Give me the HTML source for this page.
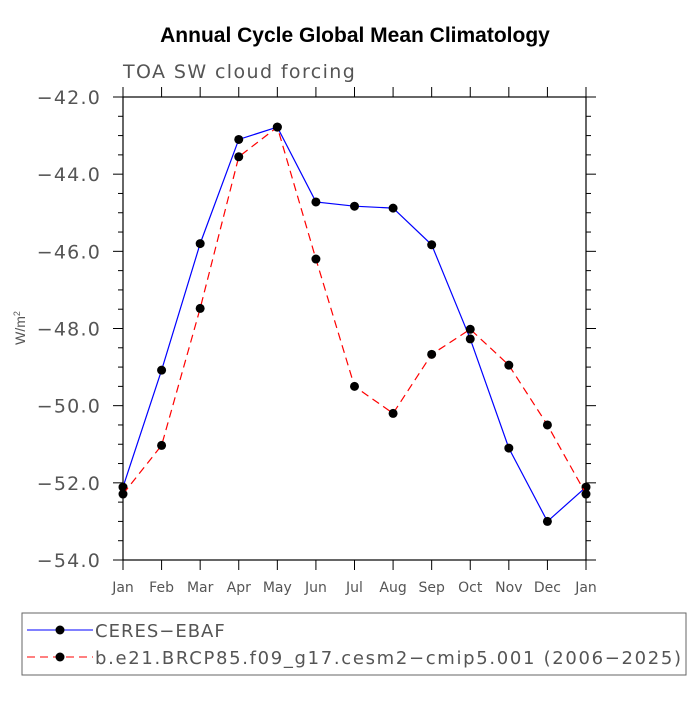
<!DOCTYPE html>
<html><head><meta charset="utf-8"><style>
body{margin:0;background:#fff}
svg text{font-family:"Liberation Sans",sans-serif}
.dv{font-family:"DejaVu Sans",sans-serif !important}
</style></head><body>
<svg id="c" width="700" height="700" xmlns="http://www.w3.org/2000/svg">
<text x="355" y="42" text-anchor="middle" font-size="21" font-weight="bold">Annual Cycle Global Mean Climatology</text>
<text class="dv" x="123" y="78" font-size="19" letter-spacing="1.4" fill="#555">TOA SW cloud forcing</text>
<text transform="translate(25,328) rotate(-90)" text-anchor="middle" font-size="14" fill="#555">W/m<tspan font-size="9" dy="-5">2</tspan></text>
<g id="axes"></g><g id="series"></g>
<rect x="22" y="613" width="664" height="62" fill="none" stroke="#666"/>
<g>
<line x1="27" y1="630" x2="93" y2="630" stroke="#00f"/><circle cx="60" cy="630" r="4.5"/>
<text class="dv" x="95" y="637" font-size="18" letter-spacing="1" fill="#555">CERES−EBAF</text></g>
<g>
<line x1="27" y1="657" x2="93" y2="657" stroke="#f00" stroke-dasharray="8,5"/><circle cx="60" cy="657" r="4.5"/>
<text class="dv" x="95" y="664" font-size="18" letter-spacing="1" textLength="587" fill="#555">b.e21.BRCP85.f09_g17.cesm2−cmip5.001 (2006−2025)</text></g>
</svg>
<script>
const months=["Jan","Feb","Mar","Apr","May","Jun","Jul","Aug","Sep","Oct","Nov","Dec","Jan"];
const ceres=[-52.11,-49.08,-45.8,-43.1,-42.78,-44.72,-44.83,-44.88,-45.83,-48.27,-51.1,-53.0,-52.11];
const model=[-52.29,-51.03,-47.48,-43.55,-42.78,-46.2,-49.5,-50.2,-48.67,-48.02,-48.95,-50.5,-52.29];
const yTicks=[-42,-44,-46,-48,-50,-52,-54];
const NS="http://www.w3.org/2000/svg";
const L=123,R=586,T=97,B=560,ymax=-42,ymin=-54;
const xs=i=>L+(R-L)*i/12, ys=v=>T+(ymax-v)/(ymax-ymin)*(B-T);
function mk(p,t,a){const e=document.createElementNS(NS,t);for(const k in a)e.setAttribute(k,a[k]);p.appendChild(e);return e;}
const ax=document.getElementById('axes'),se=document.getElementById('series');
const box=mk(ax,'rect',{x:L,y:T,width:R-L,height:B-T,fill:'none',stroke:'#000','stroke-width':1.2});


for(let v=ymax;v>=ymin-1e-9;v-=0.5){const y=ys(v);const maj=Math.abs(v%2)<1e-6;const len=maj?10:5;
 mk(ax,'line',{x1:L-len,y1:y,x2:L,y2:y,stroke:'#000'});mk(ax,'line',{x1:R,y1:y,x2:R+len,y2:y,stroke:'#000'});}
yTicks.forEach(v=>{const t=mk(ax,'text',{class:'dv',x:L-22,y:ys(v)+7,'text-anchor':'end','font-size':19,'letter-spacing':1.2,fill:'#555'});t.textContent='−'+Math.abs(v).toFixed(1);

});
months.forEach((m,i)=>{const x=xs(i);mk(ax,'line',{x1:x,y1:B,x2:x,y2:B+10,stroke:'#000'});mk(ax,'line',{x1:x,y1:T-10,x2:x,y2:T,stroke:'#000'});
const t=mk(ax,'text',{class:'dv',x:x,y:B+32,'text-anchor':'middle','font-size':14,fill:'#555'});t.textContent=m;

});
function draw(d,col,dash,name){const g=mk(se,'g',{});


mk(g,'polyline',{points:d.map((v,i)=>xs(i)+','+ys(v)).join(' '),fill:'none',stroke:col,'stroke-width':1.2,'stroke-dasharray':dash});
d.forEach((v,i)=>mk(g,'circle',{cx:xs(i),cy:ys(v),r:4.5,fill:'#000'}));}
draw(ceres,'#00f','none','series-ceres');
draw(model,'#f00','8,5','series-model');
</script>
</body></html>
